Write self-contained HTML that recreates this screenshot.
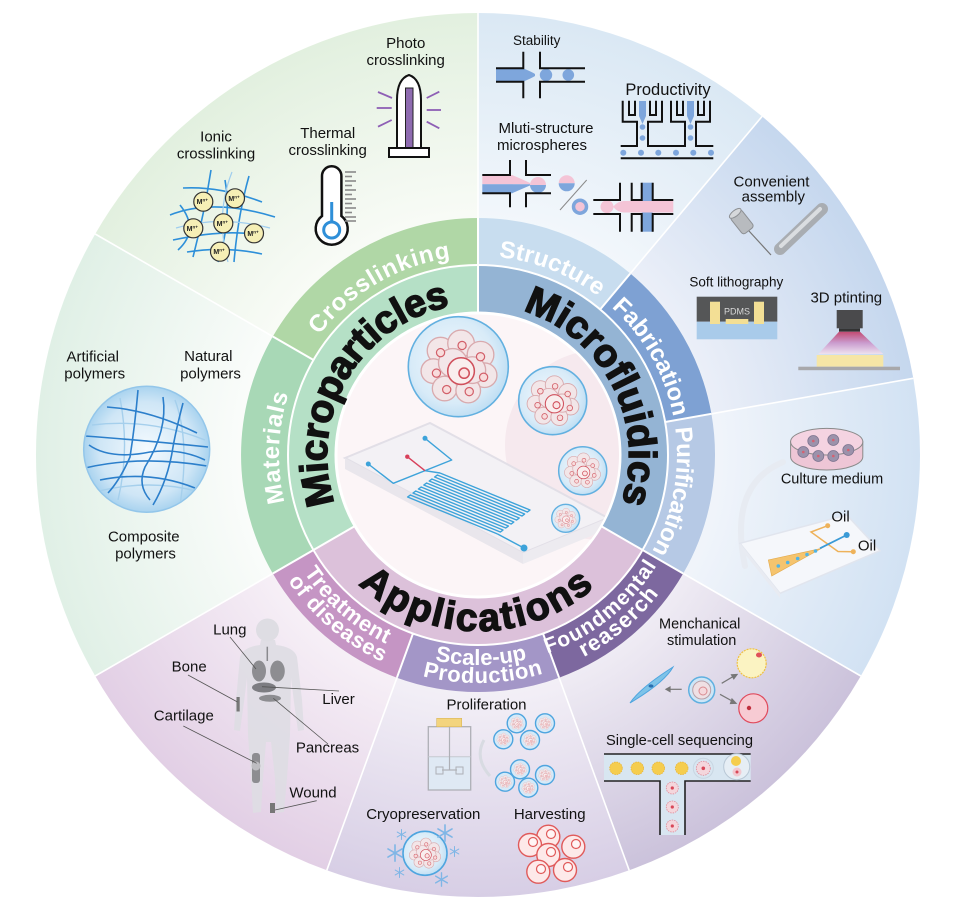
<!DOCTYPE html>
<html><head><meta charset="utf-8"><style>
html,body{margin:0;padding:0;background:#fff;}
svg{display:block;font-family:"Liberation Sans",Arial,sans-serif;}
</style></head><body>
<svg width="955" height="913" viewBox="0 0 955 913" xmlns="http://www.w3.org/2000/svg">
<defs>
<radialGradient id="gCross" gradientUnits="userSpaceOnUse" cx="478" cy="455" r="442"><stop offset="0.5" stop-color="#fafcf8"/><stop offset="1" stop-color="#e2f0df"/></radialGradient>
<radialGradient id="gMat" gradientUnits="userSpaceOnUse" cx="478" cy="455" r="442"><stop offset="0.5" stop-color="#fcfdfc"/><stop offset="1" stop-color="#e0f0e6"/></radialGradient>
<radialGradient id="gStruct" gradientUnits="userSpaceOnUse" cx="478" cy="455" r="442"><stop offset="0.5" stop-color="#f4f8fc"/><stop offset="1" stop-color="#dae8f4"/></radialGradient>
<radialGradient id="gFab" gradientUnits="userSpaceOnUse" cx="478" cy="455" r="442"><stop offset="0.5" stop-color="#eef1f9"/><stop offset="1" stop-color="#c5d7ee"/></radialGradient>
<radialGradient id="gPur" gradientUnits="userSpaceOnUse" cx="478" cy="455" r="442"><stop offset="0.5" stop-color="#f3f6fb"/><stop offset="1" stop-color="#d2e2f3"/></radialGradient>
<radialGradient id="gFound" gradientUnits="userSpaceOnUse" cx="478" cy="455" r="442"><stop offset="0.5" stop-color="#f2eff6"/><stop offset="1" stop-color="#cbc2db"/></radialGradient>
<radialGradient id="gScale" gradientUnits="userSpaceOnUse" cx="478" cy="455" r="442"><stop offset="0.5" stop-color="#f5f2f8"/><stop offset="1" stop-color="#d7cee5"/></radialGradient>
<radialGradient id="gTreat" gradientUnits="userSpaceOnUse" cx="478" cy="455" r="442"><stop offset="0.5" stop-color="#f8f2f8"/><stop offset="1" stop-color="#e2cfe5"/></radialGradient>
<radialGradient id="gBub" cx="0.45" cy="0.45" r="0.6"><stop offset="0" stop-color="#f2f9fe"/><stop offset="0.7" stop-color="#d8ebf8"/><stop offset="1" stop-color="#b9dbf2"/></radialGradient>
<radialGradient id="gSph" cx="0.5" cy="0.5" r="0.5"><stop offset="0" stop-color="#f4fafe"/><stop offset="0.75" stop-color="#cfe6f6"/><stop offset="1" stop-color="#a9d3ef"/></radialGradient>
<linearGradient id="gLight" x1="0" y1="0" x2="0" y2="1"><stop offset="0" stop-color="#c0305a"/><stop offset="0.5" stop-color="#c990c8"/><stop offset="1" stop-color="#f3e2ef"/></linearGradient>
<clipPath id="sphClip"><circle cx="146.7" cy="449.2" r="62"/></clipPath>
<clipPath id="diskClip"><circle cx="478" cy="455" r="141"/></clipPath>
<symbol id="cl" viewBox="-40 -40 80 80">
<g fill="#f4e6e8" stroke="#d9a7aa" stroke-width="1.3" opacity="0.95">
<circle cx="-18" cy="-16" r="13"/><circle cx="2" cy="-23" r="13"/><circle cx="21" cy="-12" r="13"/>
<circle cx="-25" cy="4" r="12"/><circle cx="25" cy="8" r="12"/><circle cx="-14" cy="21" r="12"/>
<circle cx="9" cy="23" r="12"/><circle cx="-6" cy="-4" r="14"/><circle cx="13" cy="3" r="13"/>
</g>
<g fill="#f8dcdc" stroke="#d2606a" stroke-width="1.2">
<circle cx="-18" cy="-14" r="4"/><circle cx="3" cy="-21" r="4"/><circle cx="21" cy="-10" r="4"/>
<circle cx="-22" cy="6" r="4"/><circle cx="24" cy="10" r="4"/><circle cx="-12" cy="22" r="4"/><circle cx="10" cy="24" r="4"/>
</g>
<circle cx="2" cy="4" r="13" fill="#f9eeee" stroke="#d0505c" stroke-width="1.5"/>
<circle cx="5" cy="6" r="5" fill="#fbe4e4" stroke="#d0505c" stroke-width="1.5"/>
</symbol>
<symbol id="snow" viewBox="-10 -10 20 20">
<g stroke="#7fb6e6" stroke-width="1.8" stroke-linecap="round">
<line x1="0" y1="-9" x2="0" y2="9"/><line x1="-7.8" y1="-4.5" x2="7.8" y2="4.5"/><line x1="-7.8" y1="4.5" x2="7.8" y2="-4.5"/>
</g>
</symbol>
<path id="tpCross" d="M279.0,456.7 A199,199 0 0 1 576.0,281.8"/>
<path id="tpStruct" d="M354.1,299.3 A199,199 0 0 1 674.8,425.6"/>
<path id="tpFab" d="M479.7,256.0 A199,199 0 0 1 649.5,556.0"/>
<path id="tpPur" d="M607.2,303.7 A199,199 0 0 1 544.4,642.6"/>
<path id="tpMat" d="M372.5,623.8 A199,199 0 0 1 384.6,279.3"/>
<path id="tpMP" d="M346.8,529.8 A151,151 0 0 1 478.8,304.0"/>
<path id="tpMF" d="M485.1,304.2 A151,151 0 0 1 605.1,536.6"/>
<path id="tpApp" d="M324.4,540.9 A176,176 0 0 0 629.2,545.1"/>
<path id="tpTr1" d="M271.9,414.9 A210,210 0 0 0 546.4,653.6"/>
<path id="tpTr2" d="M254.0,412.7 A228,228 0 0 0 553.4,670.2"/>
<path id="tpSc1" d="M297.6,562.5 A210,210 0 0 0 661.3,557.5"/>
<path id="tpSc2" d="M283.0,573.1 A228,228 0 0 0 677.8,564.9"/>
<path id="tpFo1" d="M406.9,652.6 A210,210 0 0 0 684.7,417.8"/>
<path id="tpFo2" d="M400.0,669.3 A228,228 0 0 0 702.5,415.4"/>
</defs>

<!-- outer sectors -->
<path d="M478,455 L95.2,234 A442,442 0 0 1 478,13 Z" fill="url(#gCross)"/>
<path d="M478,455 L478,13 A442,442 0 0 1 762.1,116.4 Z" fill="url(#gStruct)"/>
<path d="M478,455 L762.1,116.4 A442,442 0 0 1 913.3,378.3 Z" fill="url(#gFab)"/>
<path d="M478,455 L913.3,378.3 A442,442 0 0 1 860.8,676 Z" fill="url(#gPur)"/>
<path d="M478,455 L860.8,676 A442,442 0 0 1 629.2,870.3 Z" fill="url(#gFound)"/>
<path d="M478,455 L629.2,870.3 A442,442 0 0 1 326.8,870.3 Z" fill="url(#gScale)"/>
<path d="M478,455 L326.8,870.3 A442,442 0 0 1 95.2,676 Z" fill="url(#gTreat)"/>
<path d="M478,455 L95.2,676 A442,442 0 0 1 95.2,234 Z" fill="url(#gMat)"/>
<g stroke="#ffffff" stroke-width="1.6">
<line x1="272.8" y1="336.5" x2="95.2" y2="234"/><line x1="478" y1="218" x2="478" y2="13"/>
<line x1="630.3" y1="273.5" x2="762.1" y2="116.4"/><line x1="711.4" y1="413.8" x2="913.3" y2="378.3"/>
<line x1="683.2" y1="573.5" x2="860.8" y2="676"/><line x1="559.1" y1="677.7" x2="629.2" y2="870.3"/>
<line x1="396.9" y1="677.7" x2="326.8" y2="870.3"/><line x1="272.8" y1="573.5" x2="95.2" y2="676"/>
</g>

<!-- outer ring bands -->
<path d="M272.8,336.5 A237,237 0 0 1 478,218 L478,265 A190,190 0 0 0 313.5,360 Z" fill="#b0d7a6"/>
<path d="M478,218 A237,237 0 0 1 630.3,273.5 L600.1,309.5 A190,190 0 0 0 478,265 Z" fill="#c8ddef"/>
<path d="M630.3,273.5 A237,237 0 0 1 711.4,413.8 L665.1,422 A190,190 0 0 0 600.1,309.5 Z" fill="#7ea1d3"/>
<path d="M711.4,413.8 A237,237 0 0 1 683.2,573.5 L642.5,550 A190,190 0 0 0 665.1,422 Z" fill="#b6c9e5"/>
<path d="M683.2,573.5 A237,237 0 0 1 559.1,677.7 L543,633.5 A190,190 0 0 0 642.5,550 Z" fill="#7d689f"/>
<path d="M559.1,677.7 A237,237 0 0 1 396.9,677.7 L413,633.5 A190,190 0 0 0 543,633.5 Z" fill="#a396c7"/>
<path d="M396.9,677.7 A237,237 0 0 1 272.8,573.5 L313.5,550 A190,190 0 0 0 413,633.5 Z" fill="#c595c4"/>
<path d="M272.8,573.5 A237,237 0 0 1 272.8,336.5 L313.5,360 A190,190 0 0 0 313.5,550 Z" fill="#a8d8b6"/>
<!-- inner ring -->
<path d="M313.5,550 A190,190 0 0 1 478,265 L478,313 A142,142 0 0 0 355,526 Z" fill="#b5e0c6"/>
<path d="M478,265 A190,190 0 0 1 642.5,550 L601,526 A142,142 0 0 0 478,313 Z" fill="#94b4d4"/>
<path d="M642.5,550 A190,190 0 0 1 313.5,550 L355,526 A142,142 0 0 0 601,526 Z" fill="#dcc1da"/>
<g stroke="#ffffff" stroke-width="2" fill="none">
<circle cx="478" cy="455" r="190"/>
<line x1="272.8" y1="336.5" x2="313.5" y2="360"/><line x1="478" y1="218" x2="478" y2="313"/>
<line x1="630.3" y1="273.5" x2="600.1" y2="309.5"/><line x1="711.4" y1="413.8" x2="665.1" y2="422"/>
<line x1="683.2" y1="573.5" x2="601" y2="526"/><line x1="559.1" y1="677.7" x2="543" y2="633.5"/>
<line x1="396.9" y1="677.7" x2="413" y2="633.5"/><line x1="272.8" y1="573.5" x2="355" y2="526"/>
</g>
<circle cx="478" cy="455" r="142" fill="#fcf5f7" stroke="#ffffff" stroke-width="3"/>

<!-- center illustration -->
<g clip-path="url(#diskClip)">
<circle cx="600" cy="445" r="95" fill="#f6e9ee"/>
<polygon points="345,458 430,423 608,518 523,553" fill="#f3f1f5" stroke="#e2dfe7" stroke-width="2"/>
<polygon points="345,458 523,553 523,564 345,469" fill="#e9e6ec"/>
<polygon points="523,553 608,518 608,529 523,564" fill="#edebf0"/>
</g>
<g fill="none" stroke="#3da3da" stroke-width="1.4" stroke-linejoin="round">
<path d="M368.3,464 L393.3,483.3 L451.7,460 L425,438.3"/>
<path d="M425,470.7 L440,473"/>
<path d="M440,473 L530,510 L527.3,512 L437.3,475 L434.6,477 L524.6,514 L521.9,516 L431.9,479 L429.2,481 L519.2,518 L516.5,520 L426.5,483 L423.8,485 L513.8,522 L511.1,524 L421.1,487 L418.4,489 L508.4,526 L505.7,528 L415.7,491 L413,493 L503,530 L500.3,532 L410.3,495 L407.6,497 L497.6,534"/>
<path d="M497.6,534 L522,547"/>
</g>
<circle cx="368.3" cy="464" r="2.5" fill="#3da3da"/><circle cx="425" cy="438.3" r="2.5" fill="#3da3da"/>
<circle cx="524" cy="548" r="3.5" fill="#3da3da"/>
<line x1="407.3" y1="456.7" x2="425" y2="470.7" stroke="#d8405a" stroke-width="1.4"/>
<circle cx="407.3" cy="456.7" r="2.2" fill="#d8405a"/>
<circle cx="458.3" cy="366.7" r="50" fill="url(#gBub)" stroke="#62b0e0" stroke-width="1.6"/>
<use href="#cl" x="418" y="326" width="82" height="82"/>
<circle cx="552.7" cy="400.7" r="34" fill="url(#gBub)" stroke="#62b0e0" stroke-width="1.6"/>
<use href="#cl" x="525" y="373" width="56" height="56"/>
<circle cx="582.7" cy="470.7" r="24" fill="url(#gBub)" stroke="#62b0e0" stroke-width="1.5"/>
<use href="#cl" x="563" y="451" width="39" height="39"/>
<circle cx="565.7" cy="518.3" r="14" fill="url(#gBub)" stroke="#62b0e0" stroke-width="1.4"/>
<use href="#cl" x="554" y="507" width="23" height="23"/>

<!-- ring labels -->
<g fill="#ffffff" font-weight="bold" font-size="24">
<text><textPath href="#tpCross" startOffset="130.4" textLength="156" lengthAdjust="spacing">Crosslinking</textPath></text>
<text><textPath href="#tpStruct" startOffset="154.4" textLength="108" lengthAdjust="spacing">Structure</textPath></text>
<text><textPath href="#tpFab" startOffset="144.4" textLength="128" lengthAdjust="spacing">Fabrication</textPath></text>
<text><textPath href="#tpPur" startOffset="144.4" textLength="128" lengthAdjust="spacing">Purification</textPath></text>
<text><textPath href="#tpMat" startOffset="153.4" textLength="110" lengthAdjust="spacing">Materials</textPath></text>
</g>
<g fill="#ffffff" font-weight="bold" font-size="22">
<text><textPath href="#tpTr1" startOffset="164.9" textLength="110" lengthAdjust="spacing">Treatment</textPath></text>
<text><textPath href="#tpTr2" startOffset="175.8" textLength="126" lengthAdjust="spacing">of diseases</textPath></text>
<text><textPath href="#tpSc1" startOffset="173.4" textLength="93" lengthAdjust="spacing">Scale-up</textPath></text>
<text><textPath href="#tpSc2" startOffset="177.8" textLength="122" lengthAdjust="spacing">Production</textPath></text>
<text font-size="21"><textPath href="#tpFo1" startOffset="142.9" textLength="143" lengthAdjust="spacing">Foundmental</textPath></text>
<text><textPath href="#tpFo2" startOffset="189.3" textLength="99" lengthAdjust="spacing">reaserch</textPath></text>
</g>
<g fill="#111111" stroke="#111111" stroke-width="1.4" font-weight="bold" font-size="39">
<text><textPath href="#tpMP" startOffset="29.2" textLength="258" lengthAdjust="spacing">Microparticles</textPath></text>
<text><textPath href="#tpMF" startOffset="38.2" textLength="240" lengthAdjust="spacing">Microfluidics</textPath></text>
<text><textPath href="#tpApp" startOffset="55.3" textLength="258" lengthAdjust="spacing">Applications</textPath></text>
</g>

<!-- ===== Crosslinking icons ===== -->
<g fill="none" stroke="#2d8fd9" stroke-width="1.6">
<path d="M170,215 Q213,198 275,217"/><path d="M173,240 Q230,228 263,236"/>
<path d="M183,188 Q220,186 262,202"/><path d="M211,170 Q204,215 193,257"/>
<path d="M249,176 Q238,215 234,262"/><path d="M187,252 Q225,246 262,254"/>
<path d="M180,205 Q200,230 178,250"/><path d="M225,180 Q232,220 218,262"/>
</g>
<g fill="none" stroke="#9fcdee" stroke-width="1.2">
<path d="M176,228 Q220,215 270,228"/><path d="M232,172 Q215,215 228,262"/>
</g>
<g fill="#f6efb5" stroke="#333" stroke-width="1.2">
<circle cx="203.3" cy="201.7" r="9.5"/><circle cx="235" cy="198.3" r="9.5"/><circle cx="193.3" cy="228.3" r="9.5"/>
<circle cx="223.3" cy="223.3" r="9.5"/><circle cx="254" cy="233.3" r="9.5"/><circle cx="220" cy="251.7" r="9.5"/>
</g>
<g font-size="7" font-weight="bold" fill="#222" text-anchor="middle">
<text x="202.3" y="204.2">M<tspan font-size="4.5" dy="-2.5">n+</tspan></text>
<text x="234" y="200.8">M<tspan font-size="4.5" dy="-2.5">n+</tspan></text>
<text x="192.3" y="230.8">M<tspan font-size="4.5" dy="-2.5">n+</tspan></text>
<text x="222.3" y="225.8">M<tspan font-size="4.5" dy="-2.5">n+</tspan></text>
<text x="253" y="235.8">M<tspan font-size="4.5" dy="-2.5">n+</tspan></text>
<text x="219" y="254.2">M<tspan font-size="4.5" dy="-2.5">n+</tspan></text>
</g>
<!-- thermometer -->
<path d="M322,216 V176 A9.7,9.7 0 0 1 341.4,176 V216 A16,16 0 1 1 322,216 Z" fill="#ffffff" stroke="#111" stroke-width="2.5"/>
<line x1="331.7" y1="202" x2="331.7" y2="222" stroke="#2f8fd8" stroke-width="3"/>
<circle cx="331.7" cy="230" r="8" fill="none" stroke="#2f8fd8" stroke-width="3"/>
<g stroke="#8a8a8a" stroke-width="1.6">
<line x1="345" y1="172" x2="356" y2="172"/><line x1="345" y1="176.5" x2="352" y2="176.5"/><line x1="345" y1="181" x2="356" y2="181"/>
<line x1="345" y1="185.5" x2="352" y2="185.5"/><line x1="345" y1="190" x2="356" y2="190"/><line x1="345" y1="194.5" x2="352" y2="194.5"/>
<line x1="345" y1="199" x2="356" y2="199"/><line x1="345" y1="203.5" x2="352" y2="203.5"/><line x1="345" y1="208" x2="356" y2="208"/>
<line x1="345" y1="212.5" x2="352" y2="212.5"/><line x1="345" y1="217" x2="356" y2="217"/><line x1="345" y1="221" x2="356" y2="221"/>
</g>
<!-- lamp -->
<path d="M397,148 L397,100 Q397,79 409,75 Q421,79 421,100 L421,148" fill="#ffffff" stroke="#111" stroke-width="2"/>
<rect x="405.5" y="88" width="7.5" height="60" fill="#8e6bb0" stroke="#222" stroke-width="1"/>
<rect x="389" y="148" width="40" height="9" fill="#ffffff" stroke="#111" stroke-width="2"/>
<g stroke="#8e5fb5" stroke-width="1.8">
<line x1="378" y1="92" x2="392" y2="98"/><line x1="376.7" y1="108" x2="391.7" y2="108"/><line x1="378" y1="126.7" x2="391.7" y2="120"/>
<line x1="426.7" y1="98" x2="439.3" y2="91.7"/><line x1="426.7" y1="110" x2="441" y2="110"/><line x1="426.7" y1="121.7" x2="439.3" y2="128.3"/>
</g>

<!-- ===== Structure icons ===== -->
<g fill="#7ea6dc">
<rect x="496" y="68.3" width="28" height="13.4"/>
<path d="M523,68.3 Q532,72 535,74 L535,76 Q532,78 523,81.7 Z"/>
<circle cx="546" cy="75" r="6.2"/><circle cx="568.3" cy="75" r="5.8"/>
</g>
<g fill="none" stroke="#111" stroke-width="2">
<path d="M496,68.3 H523.3 V51.7"/><path d="M540,51.7 V68.3 H585"/>
<path d="M496,81.7 H523.3 V98.3"/><path d="M540,98.3 V81.7 H585"/>
</g>
<!-- productivity -->
<g fill="#7ea6dc">
<rect x="639" y="101" width="7" height="15"/><path d="M639,116 L642.5,124 L646,116 Z"/>
<circle cx="642.5" cy="127" r="2.8"/><circle cx="642.5" cy="138" r="2.8"/>
<rect x="687" y="101" width="7" height="15"/><path d="M687,116 L690.5,124 L694,116 Z"/>
<circle cx="690.5" cy="127" r="2.8"/><circle cx="690.5" cy="138" r="2.8"/>
<circle cx="623.3" cy="152.7" r="3"/><circle cx="641" cy="152.7" r="3"/><circle cx="658.3" cy="152.7" r="3"/>
<circle cx="676" cy="152.7" r="3"/><circle cx="693.3" cy="152.7" r="3"/><circle cx="711" cy="152.7" r="3"/>
</g>
<g fill="none" stroke="#111" stroke-width="2">
<path d="M622.7,100.7 V121.7 H637 V146 H620.7"/>
<path d="M629,100.7 V115 H635 V100.7"/>
<path d="M650,100.7 V115 H656 V100.7"/>
<path d="M662,100.7 V121.7 H648 V146 H685 V121.7 H671 V100.7"/>
<path d="M677,100.7 V115 H683 V100.7"/>
<path d="M698,100.7 V115 H704 V100.7"/>
<path d="M710,100.7 V121.7 H696 V146 H713.3"/>
<line x1="620.7" y1="158.3" x2="713.3" y2="158.3"/>
</g>
<!-- multi-structure -->
<rect x="482.3" y="175" width="30" height="9.2" fill="#f4c4d6"/>
<rect x="482.3" y="184.2" width="30" height="9.1" fill="#7ea6dc"/>
<path d="M512,175 Q524,180 530,183 L530,184.2 L512,184.2 Z" fill="#f4c4d6"/>
<path d="M512,184.2 L530,184.2 L530,185.5 Q524,188 512,193.3 Z" fill="#7ea6dc"/>
<path d="M530,185 A8,8 0 0 1 546,185 Z" fill="#f4c4d6"/><path d="M530,185 A8,8 0 0 0 546,185 Z" fill="#7ea6dc"/>
<g fill="none" stroke="#111" stroke-width="2">
<path d="M482.3,175 H510 V160"/><path d="M526,160 V175 H551"/>
<path d="M482.3,193.3 H510 V207.3"/><path d="M526,207.3 V193.3 H551"/>
</g>
<path d="M558.7,183.3 A8,8 0 0 1 574.7,183.3 Z" fill="#f4c4d6"/><path d="M558.7,183.3 A8,8 0 0 0 574.7,183.3 Z" fill="#7ea6dc"/>
<line x1="586.7" y1="180" x2="560" y2="210" stroke="#8a8a8a" stroke-width="1"/>
<circle cx="580" cy="206.7" r="6.5" fill="#f4c4d6" stroke="#7ea6dc" stroke-width="3.5"/>
<rect x="641.7" y="182.7" width="11" height="49" fill="#7ea6dc"/>
<path d="M613,206.7 Q618,201 624,201 H673.3 V212.5 H624 Q618,212.5 613,206.7 Z" fill="#f4c4d6"/>
<circle cx="607" cy="206.7" r="6.5" fill="#f4c4d6"/>
<g fill="none" stroke="#111" stroke-width="2">
<path d="M593.3,200 H620 V182.7"/><path d="M631.7,182.7 V200 H641.7 V182.7"/><path d="M652.7,182.7 V200 H673.3"/>
<path d="M593.3,214 H620 V231.7"/><path d="M631.7,231.7 V214 H641.7 V231.7"/><path d="M652.7,231.7 V214 H673.3"/>
</g>

<!-- ===== Fabrication icons ===== -->
<g transform="rotate(-38 742 222)">
<rect x="735" y="211" width="14" height="22" rx="3" fill="#b8bbbf" stroke="#8d9094" stroke-width="1"/>
<ellipse cx="742" cy="211" rx="7" ry="3" fill="#d6d8db" stroke="#8d9094" stroke-width="1"/>
</g>
<line x1="749" y1="231" x2="771" y2="255" stroke="#777" stroke-width="1.2"/>
<line x1="780" y1="249" x2="822" y2="209" stroke="#a9adb2" stroke-width="12" stroke-linecap="round"/>
<line x1="781" y1="246" x2="820" y2="209" stroke="#dadde0" stroke-width="4" stroke-linecap="round"/>
<rect x="696.7" y="296.7" width="80.6" height="25" fill="#555657"/>
<rect x="696.7" y="321.7" width="80.6" height="17.6" fill="#a9cbea"/>
<rect x="710" y="301.7" width="10" height="22.3" fill="#f3df95"/>
<rect x="754" y="301.7" width="10" height="22.3" fill="#f3df95"/>
<rect x="725.7" y="319" width="22.6" height="5" fill="#f3df95"/>
<text x="737" y="314.5" font-size="9" fill="#d8d8d8" text-anchor="middle">PDMS</text>
<rect x="836.7" y="310" width="26" height="18.3" fill="#4a4a4c"/>
<rect x="839" y="328.3" width="21" height="3.4" fill="#333"/>
<polygon points="839,331.7 860,331.7 883.3,354 818.3,354" fill="url(#gLight)" opacity="0.85"/>
<rect x="816.7" y="355" width="66.6" height="11.7" fill="#f6e6a6"/>
<rect x="798.3" y="366.7" width="101.7" height="3.5" fill="#a8a8ab"/>

<!-- ===== Purification icons ===== -->
<path d="M783,462 Q728,485 745,566" fill="none" stroke="#e7ebf2" stroke-width="6" stroke-linecap="round"/>
<path d="M790.6,441.7 L790.6,456.7 A36.1,13.3 0 0 0 862.8,456.7 L862.8,441.7 Z" fill="#eec6d6" stroke="#8a8a8a" stroke-width="1"/>
<ellipse cx="826.7" cy="441.7" rx="36.1" ry="13.3" fill="#f4d3e1" stroke="#8a8a8a" stroke-width="1"/>
<g fill="#9c92ab" stroke="#7d7590" stroke-width="0.8">
<circle cx="803.3" cy="452" r="5.5"/><circle cx="818.3" cy="456" r="5.5"/><circle cx="833.3" cy="456" r="5.5"/>
<circle cx="848.3" cy="450" r="5.5"/><circle cx="833.3" cy="440" r="5.5"/><circle cx="813.3" cy="441" r="5.5"/>
</g>
<g fill="#d66070">
<circle cx="803.3" cy="452" r="1.3"/><circle cx="818.3" cy="456" r="1.3"/><circle cx="833.3" cy="456" r="1.3"/>
<circle cx="848.3" cy="450" r="1.3"/><circle cx="833.3" cy="440" r="1.3"/><circle cx="813.3" cy="441" r="1.3"/>
</g>
<polygon points="740,543.3 846.7,515 880,550.7 780,593.3" fill="#f5f7fb" stroke="#e1e5ee" stroke-width="1.5"/>
<polygon points="740,543.3 780,593.3 780,598 740,548" fill="#e8ebf2"/>
<polygon points="768.3,560 771.7,576 821.7,548.3" fill="#f5c46e" stroke="#e3a94a" stroke-width="0.6"/>
<g fill="#52b4e4"><circle cx="778.3" cy="566" r="1.8"/><circle cx="787.7" cy="562.5" r="1.8"/><circle cx="797.7" cy="558.5" r="1.8"/><circle cx="807" cy="554.5" r="1.8"/><circle cx="815.5" cy="551" r="1.8"/></g>
<path d="M827.7,525.7 L811,532 L838,551.5 L853.3,551.7" fill="none" stroke="#eeb25a" stroke-width="1.5"/>
<circle cx="827.7" cy="525.7" r="2.5" fill="#eeb25a"/><circle cx="853.3" cy="551.7" r="2.5" fill="#eeb25a"/>
<line x1="820" y1="548.3" x2="846.7" y2="535" stroke="#3a9ad6" stroke-width="1.8"/>
<circle cx="846.7" cy="535" r="3" fill="#3a9ad6"/>

<!-- ===== Foundmental research icons ===== -->
<path d="M630,703 Q640,688 673,667 Q665,682 630,703 Z" fill="#7ec3e8" stroke="#4ea5df" stroke-width="1"/>
<ellipse cx="651" cy="686" rx="2.5" ry="1.6" fill="#2a6fb0"/>
<circle cx="701.7" cy="690" r="13" fill="#cfe6f6" stroke="#5fb0e0" stroke-width="1.5"/>
<circle cx="701.7" cy="690" r="9" fill="#efe0e4" stroke="#b8a0a8" stroke-width="1"/>
<circle cx="703" cy="691" r="4" fill="#f5d8dc" stroke="#d88a90" stroke-width="1"/>
<g stroke="#777" stroke-width="1.2" fill="#777">
<line x1="681.7" y1="689.3" x2="668" y2="689.3"/><path d="M666,689.3 L670,687 L670,691.6 Z"/>
<line x1="721.7" y1="683.3" x2="734" y2="676"/><path d="M737,674.5 L731.5,674.8 L733.8,678.8 Z"/>
<line x1="720" y1="694.3" x2="733" y2="701.5"/><path d="M736,703.3 L732,699 L730.5,703.5 Z"/>
</g>
<circle cx="751.7" cy="663.3" r="14.5" fill="#fbf3c2" stroke="#f0c040" stroke-width="1.2" stroke-dasharray="2 1"/>
<ellipse cx="759" cy="655" rx="3" ry="2.5" fill="#e0505a"/>
<circle cx="753.3" cy="708.3" r="14.5" fill="#f7cbd3" stroke="#e04a5c" stroke-width="1.2"/>
<circle cx="749" cy="708" r="2.2" fill="#c0303e"/>
<rect x="604" y="754" width="146.7" height="27" fill="#d8e6f1"/>
<rect x="660" y="781" width="25" height="54" fill="#d8e6f1"/>
<g fill="none" stroke="#222" stroke-width="1.6">
<line x1="604" y1="754" x2="750.7" y2="754"/>
<path d="M604,781 H660 V835"/><path d="M685,835 V781 H750.7"/>
</g>
<g fill="#f5cd4e" stroke="#e8b43a" stroke-width="0.8" stroke-dasharray="1.5 1">
<circle cx="616" cy="768.3" r="6.3"/><circle cx="637.3" cy="768.3" r="6.3"/><circle cx="658.3" cy="768.3" r="6.3"/><circle cx="681.7" cy="768.3" r="6.3"/>
</g>
<g fill="#f4d6dc" stroke="#e08a98" stroke-width="0.8" stroke-dasharray="1.5 1">
<circle cx="672.3" cy="788" r="6"/><circle cx="672.3" cy="807" r="6"/><circle cx="672.3" cy="826" r="6"/><circle cx="703.3" cy="768.3" r="7"/>
</g>
<circle cx="703.3" cy="768.3" r="10" fill="none" stroke="#c8d6e2" stroke-width="1"/>
<circle cx="736.7" cy="766.7" r="13" fill="#e6eef5" stroke="#b9c8d6" stroke-width="1"/>
<circle cx="736" cy="761" r="5" fill="#f5cd4e"/><circle cx="737" cy="772" r="4.5" fill="#f2c8d0"/>
<g fill="#d84858"><circle cx="672.3" cy="788" r="1.6"/><circle cx="672.3" cy="807" r="1.6"/><circle cx="672.3" cy="826" r="1.6"/><circle cx="703.3" cy="768.3" r="1.8"/><circle cx="737" cy="772" r="1.5"/></g>

<!-- ===== Scale-up icons ===== -->
<rect x="428.3" y="756.7" width="42.4" height="33.3" fill="#dfe9f4"/>
<rect x="428.3" y="726.7" width="42.4" height="63.3" fill="none" stroke="#aeb0b6" stroke-width="1.3"/>
<line x1="428.3" y1="756.7" x2="470.7" y2="756.7" stroke="#c5c9d0" stroke-width="1"/>
<rect x="436.7" y="718.3" width="25" height="8.4" fill="#f3d47e" stroke="#d9b65a" stroke-width="0.6"/>
<line x1="449.5" y1="726.7" x2="449.5" y2="770" stroke="#aeb0b6" stroke-width="1.2"/>
<line x1="442" y1="770" x2="457" y2="770" stroke="#aeb0b6" stroke-width="1.2"/>
<rect x="436" y="767" width="7" height="7" fill="none" stroke="#aeb0b6" stroke-width="1"/>
<rect x="456" y="767" width="7" height="7" fill="none" stroke="#aeb0b6" stroke-width="1"/>
<path d="M484,740 Q474,758 490,776" fill="none" stroke="#d8dbe2" stroke-width="3"/>
<g fill="#d6eaf8" stroke="#4ea5df" stroke-width="1.4">
<circle cx="503.3" cy="739.3" r="9.5"/><circle cx="545" cy="723.3" r="9.5"/><circle cx="530" cy="740" r="9.5"/><circle cx="516.7" cy="723.3" r="9.5"/>
<circle cx="520" cy="769.3" r="9.5"/><circle cx="545" cy="775" r="9.5"/><circle cx="505" cy="781.7" r="9.5"/><circle cx="528.3" cy="787.7" r="9.5"/>
</g>
<use href="#cl" x="496.3" y="732.3" width="14" height="14"/><use href="#cl" x="538" y="716.3" width="14" height="14"/>
<use href="#cl" x="523" y="733" width="14" height="14"/><use href="#cl" x="509.7" y="716.3" width="14" height="14"/>
<use href="#cl" x="513" y="762.3" width="14" height="14"/><use href="#cl" x="538" y="768" width="14" height="14"/>
<use href="#cl" x="498" y="774.7" width="14" height="14"/><use href="#cl" x="521.3" y="780.7" width="14" height="14"/>
<circle cx="425" cy="853.3" r="22" fill="url(#gBub)" stroke="#4ea5df" stroke-width="1.6"/>
<use href="#cl" x="408" y="836.3" width="34" height="34"/>
<use href="#snow" x="386" y="844" width="18" height="18"/><use href="#snow" x="436" y="824" width="18" height="18"/>
<use href="#snow" x="396" y="829" width="11" height="11"/><use href="#snow" x="449" y="846" width="11" height="11"/>
<use href="#snow" x="394" y="867" width="11" height="11"/><use href="#snow" x="434" y="872" width="15" height="15"/>
<g fill="#fde9e9" stroke="#e05a5a" stroke-width="1.4">
<circle cx="548.3" cy="836.7" r="11.5"/><circle cx="530" cy="845" r="11.5"/><circle cx="573.3" cy="846.7" r="11.5"/>
<circle cx="548.3" cy="855" r="11.5"/><circle cx="538.3" cy="871.7" r="11.5"/><circle cx="565" cy="870" r="11.5"/>
</g>
<g fill="#fff5f5" stroke="#e05a5a" stroke-width="1.2">
<circle cx="551" cy="834" r="4.5"/><circle cx="533" cy="842" r="4.5"/><circle cx="576" cy="844" r="4.5"/>
<circle cx="551" cy="852" r="4.5"/><circle cx="541" cy="869" r="4.5"/><circle cx="568" cy="867" r="4.5"/>
</g>

<!-- ===== Treatment icons ===== -->
<path d="M261,640 L275,640 L276,645 Q294,647 297,657 L302,700 L304,730 L298,731 L294,702 L291,678 L290,735 L287,778 L284,812 L276,813 L275,778 L271,742 L266,742 L263,778 L261,812 L253,813 L251,778 L248,735 L247,678 L244,702 L240,731 L234,730 L236,700 L240,657 Q243,647 260,645 Z" fill="#dedde3" opacity="0.9"/>
<circle cx="267.5" cy="630" r="11.5" fill="#dedde3"/>
<line x1="267.3" y1="646.7" x2="267.3" y2="661" stroke="#8a8a8e" stroke-width="1.5"/>
<ellipse cx="259" cy="671" rx="7" ry="10.5" fill="#8d8d91"/><ellipse cx="277.5" cy="671" rx="7.3" ry="10.5" fill="#8d8d91"/>
<ellipse cx="264" cy="687.5" rx="12" ry="5" fill="#7d7d82"/>
<ellipse cx="270" cy="698.3" rx="11" ry="3.5" fill="#8d8d91"/>
<rect x="236.5" y="697" width="3.2" height="14.5" fill="#777"/>
<rect x="252" y="753" width="8" height="30" rx="3" fill="#8d8d91"/><circle cx="256" cy="766" r="4.5" fill="#bdbdc1"/>
<rect x="270" y="803" width="5" height="10" fill="#777"/>
<g stroke="#555" stroke-width="0.8">
<line x1="230" y1="637" x2="256" y2="669"/><line x1="188" y1="675" x2="237.5" y2="702"/>
<line x1="339" y1="691" x2="262" y2="686.7"/><line x1="328" y1="744" x2="273.3" y2="698.3"/>
<line x1="183.3" y1="726" x2="256.7" y2="763.3"/><line x1="316.7" y1="800.7" x2="275" y2="810"/>
</g>

<!-- ===== Materials icon ===== -->
<circle cx="146.7" cy="449.2" r="63" fill="url(#gSph)" stroke="#93c6ea" stroke-width="1.5"/>
<g clip-path="url(#sphClip)" fill="none">
<g stroke="#a5cfec" stroke-width="1.4">
<path d="M92,425 Q150,418 205,440"/><path d="M120,398 Q130,450 118,500"/><path d="M95,492 Q150,478 200,492"/><path d="M175,400 Q190,440 180,505"/>
</g>
<g stroke="#2c7fcb" stroke-width="1.6">
<path d="M107,407 Q150,410 197,433"/><path d="M85,436 Q140,440 208,447"/>
<path d="M89,445 Q110,460 150,452 Q180,448 205,460"/><path d="M85,468 Q140,455 207,466"/>
<path d="M100,480 Q150,470 195,488"/><path d="M138,390 Q135,425 130,457 Q120,480 108,493"/>
<path d="M163,397 Q168,430 145,467 Q137,485 150,500"/><path d="M183,403 Q176,430 173,447 Q168,480 153,505"/>
</g>
</g>

<!-- ===== Labels ===== -->
<g fill="#111" font-size="15" text-anchor="middle">
<text x="405.7" y="48">Photo</text><text x="405.7" y="65">crosslinking</text>
<text x="327.7" y="138">Thermal</text><text x="327.7" y="155">crosslinking</text>
<text x="216" y="141.7">Ionic</text><text x="216" y="158.3">crosslinking</text>
<text x="536.7" y="45" font-size="13.5">Stability</text>
<text x="668" y="95" font-size="16.5">Productivity</text>
<text x="546" y="133">Mluti-structure</text><text x="542" y="150">microspheres</text>
<text x="771.5" y="186.7">Convenient</text><text x="773.3" y="201.7">assembly</text>
<text x="736.3" y="286.7" font-size="13.5">Soft lithography</text>
<text x="846.3" y="302.7">3D ptinting</text>
<text x="832" y="483.3" font-size="14.5">Culture medium</text>
<text x="840.5" y="521.7">Oil</text><text x="867" y="550.7">Oil</text>
<text x="699.7" y="628.3" font-size="14.5">Menchanical</text><text x="701.7" y="645" font-size="14.5">stimulation</text>
<text x="679.5" y="745" font-size="14.7">Single-cell sequencing</text>
<text x="92.7" y="361.7">Artificial</text><text x="94.7" y="378.3">polymers</text>
<text x="208.3" y="361">Natural</text><text x="210.5" y="378.3">polymers</text>
<text x="143.8" y="541.7">Composite</text><text x="145.5" y="558.3">polymers</text>
<text x="229.8" y="634.3">Lung</text><text x="189.2" y="671.7">Bone</text>
<text x="338.5" y="704">Liver</text><text x="183.8" y="720.7">Cartilage</text>
<text x="327.5" y="752.3">Pancreas</text><text x="313" y="797.7">Wound</text>
<text x="486.5" y="709.3">Proliferation</text>
<text x="423.3" y="819">Cryopreservation</text><text x="549.7" y="819">Harvesting</text>
</g>
</svg>
</body></html>
